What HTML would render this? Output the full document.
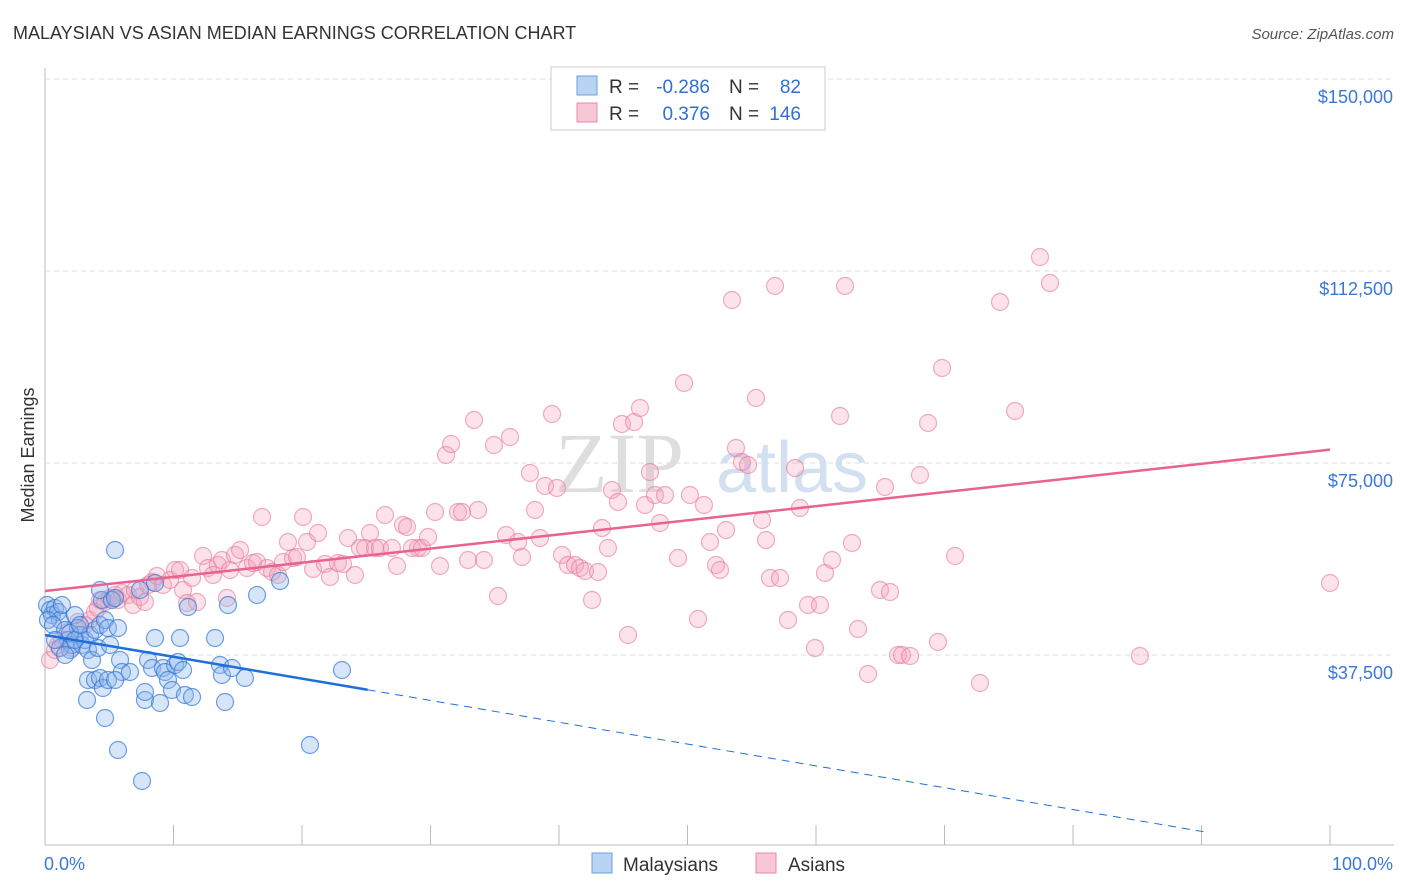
<!DOCTYPE html>
<html><head><meta charset="utf-8"><style>
body{margin:0;background:#fff;font-family:"Liberation Sans",sans-serif}
svg{display:block}
</style></head><body>
<svg id="chart" width="1406" height="892">
<text x="13" y="39" font-size="18" fill="#333">MALAYSIAN VS ASIAN MEDIAN EARNINGS CORRELATION CHART</text>
<text x="1394" y="39" font-size="15" fill="#555" text-anchor="end" font-style="italic">Source: ZipAtlas.com</text>
<text x="34" y="455" font-size="18" fill="#333" transform="rotate(-90 34 455)" text-anchor="middle">Median Earnings</text>
<text x="555" y="492" font-size="86" fill="#dedede" font-family="Liberation Serif">ZIP</text>
<text x="716" y="492" font-size="72" fill="#d3e0f1">atlas</text>
<g id="grid"></g><g id="pts"></g><g id="trend"></g>
<g font-size="19">
<rect x="551" y="67" width="274" height="63" fill="#fff" stroke="#ccc"/>
<rect x="577" y="76" width="20" height="19" fill="#b9d3f3" stroke="#6b9fe0"/>
<rect x="577" y="103" width="20" height="19" fill="#f8c6d5" stroke="#e98aa8"/>
<text x="609" y="93" fill="#333">R =</text>
<text x="710" y="93" fill="#2f6fd6" text-anchor="end">-0.286</text>
<text x="729" y="93" fill="#333">N =</text>
<text x="801" y="93" fill="#2f6fd6" text-anchor="end">82</text>
<text x="609" y="120" fill="#333">R =</text>
<text x="710" y="120" fill="#2f6fd6" text-anchor="end">0.376</text>
<text x="729" y="120" fill="#333">N =</text>
<text x="801" y="120" fill="#2f6fd6" text-anchor="end">146</text>
</g>
<g>
<rect x="592" y="853" width="20" height="20" fill="#b9d3f3" stroke="#6b9fe0"/>
<text x="623" y="871" font-size="19" fill="#333">Malaysians</text>
<rect x="756" y="853" width="20" height="20" fill="#f8c6d5" stroke="#e98aa8"/>
<text x="788" y="871" font-size="19" fill="#333">Asians</text>
</g>
<text x="44" y="870" font-size="18" fill="#3a78d8">0.0%</text>
<text x="1393" y="870" font-size="18" fill="#3a78d8" text-anchor="end">100.0%</text>
</svg>
<script>
const yTicks=[37500,75000,112500,150000];
const yTickLabels=["$37,500","$75,000","$112,500","$150,000"];
const bluePx=[[47,605],[50,610],[52,615],[55,608],[58,612],[60,620],[62,605],[48,620],[53,625],[65,630],[68,640],[70,650],[72,645],[75,615],[78,628],[80,635],[82,645],[85,640],[88,650],[90,635],[92,660],[95,630],[98,648],[100,625],[102,600],[105,620],[108,628],[110,645],[112,600],[115,550],[118,628],[120,660],[122,672],[88,680],[95,680],[100,678],[103,688],[108,680],[115,680],[87,700],[105,718],[118,750],[130,672],[142,781],[145,700],[145,692],[148,660],[152,668],[155,638],[160,703],[163,668],[165,672],[168,680],[172,690],[175,665],[178,662],[180,638],[183,670],[185,695],[188,607],[192,697],[215,638],[220,665],[222,675],[225,702],[228,605],[232,668],[245,678],[257,595],[280,581],[310,745],[342,670],[155,583],[140,590],[100,590],[115,598],[70,633],[75,640],[60,648],[65,655],[80,625],[55,640]];
const pinkPx=[[50,660],[55,650],[58,645],[62,640],[68,632],[72,648],[78,622],[85,625],[90,620],[95,612],[98,608],[100,600],[105,602],[110,598],[115,595],[118,600],[122,593],[128,595],[133,605],[135,590],[140,597],[145,602],[148,585],[152,582],[157,576],[163,585],[170,580],[175,570],[180,570],[183,590],[187,603],[192,578],[197,602],[203,556],[208,568],[213,575],[218,565],[222,560],[227,598],[230,570],[235,555],[240,550],[247,568],[253,563],[257,562],[262,517],[267,568],[272,572],[278,575],[283,562],[288,542],[293,558],[297,557],[303,517],[307,542],[313,569],[318,533],[325,564],[330,577],[338,563],[343,564],[348,538],[355,575],[360,548],[365,548],[370,533],[375,548],[380,548],[385,515],[392,548],[397,566],[403,525],[407,527],[412,548],[418,548],[422,548],[428,537],[435,512],[440,566],[446,455],[451,444],[458,512],[462,512],[468,560],[474,420],[478,510],[484,560],[494,445],[498,596],[506,535],[510,437],[518,542],[522,557],[530,473],[535,510],[540,538],[545,486],[552,414],[557,488],[562,555],[568,565],[575,565],[580,568],[585,571],[592,600],[598,572],[602,528],[608,548],[612,490],[618,502],[622,424],[628,635],[634,422],[640,408],[645,505],[650,472],[655,495],[660,523],[665,495],[678,558],[684,383],[690,495],[698,619],[704,505],[710,542],[716,565],[720,570],[726,530],[732,300],[736,448],[742,462],[748,465],[756,398],[762,520],[766,540],[770,578],[775,286],[780,578],[788,620],[795,468],[800,508],[808,605],[815,648],[820,605],[825,573],[832,560],[840,416],[845,286],[852,543],[858,629],[868,674],[880,590],[885,487],[890,592],[898,655],[902,655],[910,656],[920,475],[928,423],[938,642],[942,368],[955,556],[980,683],[1000,302],[1015,411],[1040,257],[1050,283],[1140,656],[1330,583]];
const blueX=bluePx.map(p=>+((p[0]-45)/12.85).toFixed(2));
const blueY=bluePx.map(p=>Math.round((847-p[1])*195.3));
const pinkX=pinkPx.map(p=>+((p[0]-45)/12.85).toFixed(2));
const pinkY=pinkPx.map(p=>Math.round((847-p[1])*195.3));
const blueTrend=[41400,-1200];
const pinkTrend=[50000,77600];
const blueSolidEnd=25.1;

const NS="http://www.w3.org/2000/svg";
const X=v=>45+v*12.85, Y=v=>847-v/195.3;
function mk(t,a,p){const e=document.createElementNS(NS,t);for(const k in a)e.setAttribute(k,a[k]);p.appendChild(e);return e;}
const grid=document.getElementById('grid');
let ax=mk('line',{x1:45,y1:68,x2:45,y2:845,stroke:'#bbb'},grid);


let xa=mk('line',{x1:45,y1:845,x2:1394,y2:845,stroke:'#bbb'},grid);


for(let i=0;i<=10;i++){let t=mk('line',{x1:45+i*128.5,y1:825,x2:45+i*128.5,y2:845,stroke:'#bbb'},grid);

}
yTicks.forEach((v,i)=>{let g=mk('line',{x1:45,y1:Y(v),x2:1394,y2:Y(v),stroke:'#ddd','stroke-dasharray':'5,4'},grid);


let t=mk('text',{x:1393,y:Y(v)+24,'font-size':18,fill:'#3a78d8','text-anchor':'end'},grid);t.textContent=yTickLabels[i];

});
const pts=document.getElementById('pts');
pinkX.forEach((x,i)=>{let c=mk('circle',{cx:X(x),cy:Y(pinkY[i]),r:8.5,fill:'rgba(244,160,185,0.3)',stroke:'rgba(230,120,155,0.6)','stroke-width':1.2},pts);

});
blueX.forEach((x,i)=>{let c=mk('circle',{cx:X(x),cy:Y(blueY[i]),r:8.5,fill:'rgba(140,180,235,0.35)',stroke:'rgba(50,120,215,0.7)','stroke-width':1.2},pts);

});
const tr=document.getElementById('trend');
const bAt=p=>blueTrend[0]+(blueTrend[1]-blueTrend[0])*p/100;
let l1=mk('line',{x1:X(0),y1:Y(bAt(0)),x2:X(blueSolidEnd),y2:Y(bAt(blueSolidEnd)),stroke:'#1f6fd8','stroke-width':2.5},tr);


let l2=mk('line',{x1:X(blueSolidEnd),y1:Y(bAt(blueSolidEnd)),x2:X(90.5),y2:Y(bAt(90.5)),stroke:'#1f6fd8','stroke-width':1,'stroke-dasharray':'8,6'},tr);


let l3=mk('line',{x1:X(0),y1:Y(pinkTrend[0]),x2:X(100),y2:Y(pinkTrend[1]),stroke:'#e8638f','stroke-width':2.5},tr);


</script>
</body></html>
